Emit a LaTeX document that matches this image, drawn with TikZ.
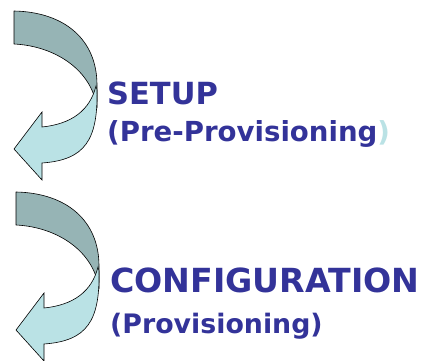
\documentclass[tikz,border=0pt]{standalone}
\usepackage{fontspec}
\newfontfamily\lblfont{DejaVu Sans}
\definecolor{txtblue}{RGB}{51,51,153}
\definecolor{backc}{RGB}{150,180,181}
\definecolor{frontc}{RGB}{186,226,229}
\tikzset{
  backpart/.style={draw=black, line width=0.6pt, fill=backc, line join=round},
  frontpart/.style={draw=black, line width=0.6pt, fill=frontc, line join=miter},
  lbl/.style={inner sep=0pt, text=txtblue, anchor=base west},
}
\begin{document}
\begin{tikzpicture}[x=1pt,y=-1pt]
\useasboundingbox (0,0) rectangle (421,361);
\foreach \dx/\dy in {0/0, 2/181}{
\begin{scope}[shift={(\dx,\dy)}]
\draw[backpart] (14,11) .. controls (65,12) and (97,40) .. (97,85) -- (97,108)
   .. controls (92,70) and (55,46) .. (14,44) -- cycle;
\draw[frontpart] (96,86) -- (97,90) .. controls (98,140) and (85,160) .. (42,163)
   -- (42,180) -- (14,149) -- (42,112) -- (42,127)
   .. controls (72,124) and (90,110) .. (96,86) -- cycle;
\end{scope}
}
\node[lbl, font=\lblfont\bfseries\fontsize{30.5}{36}\selectfont] (setup) at (107,105) {SETUP};
\node[lbl, font=\lblfont\bfseries\fontsize{27.6}{34}\selectfont] (pre) at (107,142) {(Pre-Provisioning\textcolor{frontc}{)}};
\node[lbl, font=\lblfont\bfseries\fontsize{33.2}{39}\selectfont] (config) at (110,292) {CONFIGURATION};
\node[lbl, font=\lblfont\bfseries\fontsize{26.8}{32}\selectfont] (prov) at (110,333) {(Provisioning)};
\end{tikzpicture}
\end{document}
